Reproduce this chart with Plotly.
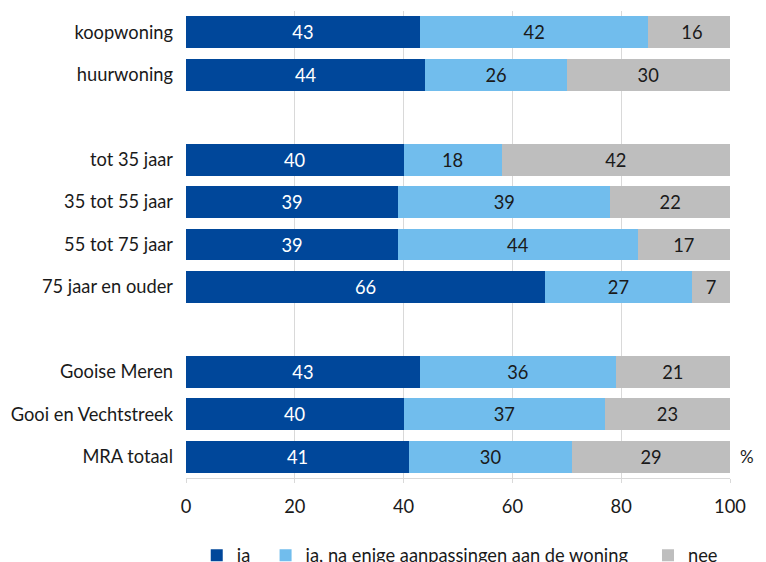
import plotly.graph_objects as go

categories = ["koopwoning", "huurwoning", " ", "tot 35 jaar", "35 tot 55 jaar",
              "55 tot 75 jaar", "75 jaar en ouder", "  ", "Gooise Meren",
              "Gooi en Vechtstreek", "MRA totaal"]
ja = [43, 44, None, 40, 39, 39, 66, None, 43, 40, 41]
ja_aanp = [42, 26, None, 18, 39, 44, 27, None, 36, 37, 30]
nee = [16, 30, None, 42, 22, 17, 7, None, 21, 23, 29]
series_names = ["ja", "ja, na enige aanpassingen aan de woning", "nee"]
x_ticks = [0, 20, 40, 60, 80, 100]

colors = ["#00479A", "#71BDED", "#BEBEBE"]
text_colors = ["white", "#1a1a1a", "#1a1a1a"]
FONT = "Lato"
FS = 18.3
pads = ["\u00a0" * 2, "\u00a0" * 3, ""]

fig = go.Figure()
for name, vals, c, tc, pad in zip(series_names, [ja, ja_aanp, nee], colors, text_colors, pads):
    fig.add_trace(go.Bar(
        y=categories, x=vals, name=name + pad,
        orientation="h",
        marker=dict(color=c, line=dict(width=0)),
        text=[("" if v is None else str(v)) for v in vals],
        textposition="inside", insidetextanchor="middle", textangle=0,
        constraintext="none",
        textfont=dict(color=tc, size=FS, family=FONT),
        hoverinfo="x+y+name",
    ))

# the page body has an 8px margin, so the figure is sized to the visible area
fig.update_layout(
    barmode="stack", bargap=0.25,
    width=758, height=554,
    margin=dict(l=178, r=36, t=3, b=84, autoexpand=False),
    plot_bgcolor="white", paper_bgcolor="white",
    font=dict(family=FONT, size=FS, color="#1a1a1a"),
    xaxis=dict(range=[0, 100], tickvals=x_ticks, showgrid=True, gridcolor="#D9D9D9",
               gridwidth=1, zeroline=False, showline=True, linecolor="#D9D9D9",
               ticks="outside", ticklen=4, tickcolor="#D9D9D9", automargin=False,
               ticklabelstandoff=8,
               tickfont=dict(size=FS, family=FONT)),
    yaxis=dict(categoryorder="array", categoryarray=categories, autorange="reversed",
               showgrid=False, showline=False, ticks="", ticklabelstandoff=12,
               automargin=False,
               tickfont=dict(size=FS, family=FONT)),
    legend=dict(orientation="h", xref="container", x=0.249, xanchor="left",
                yref="container", y=0.012, yanchor="middle",
                bgcolor="rgba(0,0,0,0)",
                font=dict(size=FS, family=FONT), traceorder="normal",
                itemwidth=30),
    showlegend=True,
)
fig.add_annotation(text="%", xref="paper", yref="y", x=1.032, y="MRA totaal",
                   xanchor="center", showarrow=False, font=dict(size=17, family=FONT))

fig.write_html("out.html")
